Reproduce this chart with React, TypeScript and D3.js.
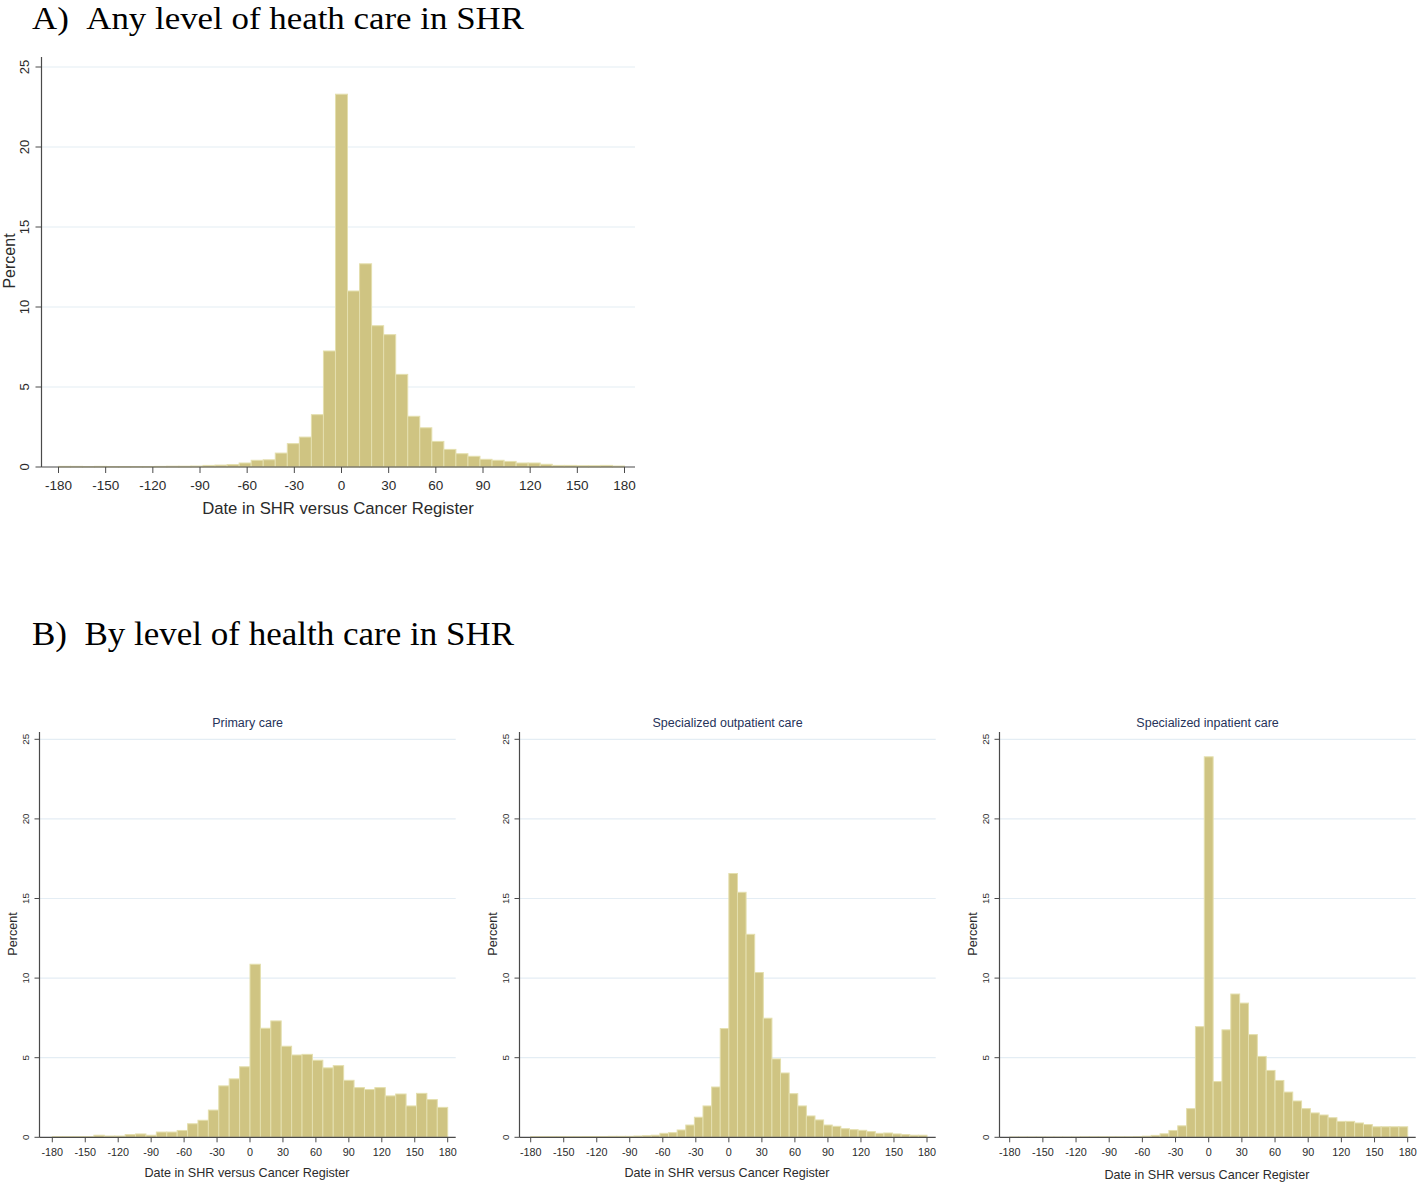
import React from "react";
import * as d3 from "d3";

// ---------- DATA (percent per bin, bins span -180..180 days) ----------
const anyLevel = [
  0.04, 0.04, 0.03, 0.04, 0.03, 0.03, 0.03, 0.03, 0.04, 0.05, 0.05, 0.06,
  0.1, 0.12, 0.15, 0.25, 0.42, 0.45, 0.87, 1.46, 1.87, 3.27, 7.25, 23.3,
  11.0, 12.7, 8.83, 8.27, 5.79, 3.17, 2.45, 1.6, 1.1, 0.83, 0.67, 0.48,
  0.42, 0.35, 0.25, 0.25, 0.17, 0.1, 0.1, 0.08, 0.08, 0.1, 0.06,
];
const primaryCare = [
  0.04, 0.04, 0.04, 0.04, 0.13, 0.08, 0.08, 0.17, 0.21, 0.13, 0.33, 0.33,
  0.43, 0.85, 1.07, 1.71, 3.23, 3.67, 4.43, 10.87, 6.85, 7.31, 5.72, 5.17,
  5.21, 4.84, 4.36, 4.5, 3.58, 3.12, 3.0, 3.12, 2.6, 2.72, 1.97, 2.76, 2.37,
  1.88,
];
const outpatientCare = [
  0.04, 0.04, 0.04, 0.04, 0.04, 0.04, 0.05, 0.05, 0.05, 0.06, 0.06, 0.06,
  0.08, 0.1, 0.13, 0.25, 0.29, 0.46, 0.77, 1.26, 1.97, 3.16, 6.83, 16.57,
  15.39, 12.75, 10.35, 7.48, 4.92, 4.04, 2.74, 1.97, 1.34, 1.09, 0.77, 0.69,
  0.54, 0.48, 0.44, 0.36, 0.25, 0.27, 0.21, 0.17, 0.13, 0.13,
];
const inpatientCare = [
  0.02, 0.02, 0.02, 0.02, 0.02, 0.02, 0.02, 0.02, 0.03, 0.03, 0.03, 0.03,
  0.03, 0.03, 0.04, 0.07, 0.12, 0.22, 0.43, 0.72, 1.8, 6.95, 23.9, 3.5, 6.75,
  9.0, 8.43, 6.45, 5.08, 4.2, 3.57, 2.84, 2.28, 1.8, 1.53, 1.4, 1.23, 1.0,
  1.0, 0.9, 0.8, 0.66, 0.66, 0.66, 0.66,
];
const xTicks = [-180, -150, -120, -90, -60, -30, 0, 30, 60, 90, 120, 150, 180];
const yTicks = [0, 5, 10, 15, 20, 25];
const xDomain = [-180, 180];
const yDomain = [0, 25];

const panelTitleA = "A)\u00a0\u00a0Any level of heath care in SHR";
const panelTitleB = "B)\u00a0\u00a0By level of health care in SHR";
const subTitles = ["Primary care", "Specialized outpatient care", "Specialized inpatient care"];
const xTitle = "Date in SHR versus Cancer Register";
const yTitle = "Percent";

const BAR_FILL = "#cfc482";
const BAR_EDGE = "#e4dfae";
const GRID = "#e4edf4";
const AXIS = "#4a4a4a";
const TEXT = "#2b2b2b";
const SUB = "#26335a";
const SANS = "'Liberation Sans', Arial, sans-serif";
const SERIF = "'Liberation Serif', 'Times New Roman', serif";

type Layout = {
  axisX: number;
  x0: number;
  x1: number;
  gridEnd: number;
  yBase: number;
  yTop: number;
  axisTop: number;
  tickFont: number;
  yTickFont: number;
  tickLabelY: number;
  yLabelX: number;
  titleX: number;
  titleY: number;
  titleFont: number;
  percentX: number;
  percentY: number;
  percentFont: number;
  tickLen: number;
  subtitle?: string;
  subtitleY?: number;
  subtitleFont?: number;
};

function Hist({ values, L }: { values: number[]; L: Layout }) {
  const x = d3.scaleLinear().domain(xDomain).range([L.x0, L.x1]);
  const y = d3.scaleLinear().domain(yDomain).range([L.yBase, L.yTop]);
  const n = values.length;
  const w = (xDomain[1] - xDomain[0]) / n;
  const bins = values.map((v, i) => ({ a: xDomain[0] + i * w, b: xDomain[0] + (i + 1) * w, v }));
  const cx = (L.axisX + L.gridEnd) / 2;
  return (
    <g>
      {yTicks.filter((t) => t > 0).map((t) => (
        <line key={"g" + t} x1={L.axisX} x2={L.gridEnd} y1={y(t)} y2={y(t)} stroke={GRID} strokeWidth={1.2} />
      ))}
      {bins.map((d, i) => (
        <rect
          key={i}
          x={x(d.a)}
          y={y(d.v)}
          width={x(d.b) - x(d.a)}
          height={L.yBase - y(d.v)}
          fill={BAR_FILL}
          stroke={BAR_EDGE}
          strokeWidth={1}
        />
      ))}
      <line x1={L.axisX} x2={L.axisX} y1={L.axisTop} y2={L.yBase} stroke={AXIS} strokeWidth={1.2} />
      <line x1={L.axisX} x2={L.gridEnd} y1={L.yBase} y2={L.yBase} stroke={AXIS} strokeWidth={1.2} />
      {yTicks.map((t) => (
        <g key={"y" + t}>
          <line x1={L.axisX - L.tickLen} x2={L.axisX} y1={y(t)} y2={y(t)} stroke={AXIS} strokeWidth={1} />
          <text
            transform={`translate(${L.yLabelX},${y(t)}) rotate(-90)`}
            textAnchor="middle"
            fontFamily={SANS}
            fontSize={L.yTickFont}
            fill={TEXT}
          >
            {t}
          </text>
        </g>
      ))}
      {xTicks.map((t) => (
        <g key={"x" + t}>
          <line x1={x(t)} x2={x(t)} y1={L.yBase} y2={L.yBase + L.tickLen} stroke={AXIS} strokeWidth={1} />
          <text x={x(t)} y={L.tickLabelY} textAnchor="middle" fontFamily={SANS} fontSize={L.tickFont} fill={TEXT}>
            {t}
          </text>
        </g>
      ))}
      <text x={L.titleX ?? cx} y={L.titleY} textAnchor="middle" fontFamily={SANS} fontSize={L.titleFont} fill={TEXT}>
        {xTitle}
      </text>
      <text
        transform={`translate(${L.percentX},${L.percentY}) rotate(-90)`}
        textAnchor="middle"
        fontFamily={SANS}
        fontSize={L.percentFont}
        fill={TEXT}
      >
        {yTitle}
      </text>
      {L.subtitle && (
        <text x={cx} y={L.subtitleY} textAnchor="middle" fontFamily={SANS} fontSize={L.subtitleFont} fill={SUB}>
          {L.subtitle}
        </text>
      )}
    </g>
  );
}

const layoutA: Layout = {
  axisX: 41.5,
  x0: 58.5,
  x1: 624.5,
  gridEnd: 635,
  yBase: 467,
  yTop: 67,
  axisTop: 57,
  tickFont: 13.5,
  yTickFont: 13,
  tickLabelY: 490,
  yLabelX: 29,
  titleX: 338,
  titleY: 514,
  titleFont: 16.7,
  percentX: 15,
  percentY: 261,
  percentFont: 16,
  tickLen: 6,
};

function layoutB(off: number, x0: number, x1: number, sub: string, titleY: number): Layout {
  return {
    axisX: off + 39.5,
    x0: off + x0,
    x1: off + x1,
    gridEnd: off + 455.7,
    yBase: 1137.3,
    yTop: 739.3,
    axisTop: 732,
    tickFont: 10.8,
    yTickFont: 9.8,
    tickLabelY: 1155.8,
    yLabelX: off + 28.5,
    titleX: off + 247,
    titleY,
    titleFont: 12.6,
    percentX: off + 17,
    percentY: 934,
    percentFont: 12.6,
    tickLen: 5,
    subtitle: sub,
    subtitleY: 726.5,
    subtitleFont: 12.5,
  };
}

export default function App() {
  const Ls = [
    layoutB(0, 52.3, 447.7, subTitles[0], 1177),
    layoutB(480, 50.7, 447, subTitles[1], 1176.5),
    layoutB(960, 49.7, 447.7, subTitles[2], 1179),
  ];
  const series = [primaryCare, outpatientCare, inpatientCare];
  return (
    <svg
      width={1418}
      height={1183}
      style={{ position: "absolute", left: 0, top: 0, background: "#fff" }}
    >
      <rect width={1418} height={1183} fill="#fff" />
      <text
        x={32}
        y={28.5}
        fontFamily={SERIF}
        fontSize={31}
        fill="#000"
        textLength={492}
        lengthAdjust="spacingAndGlyphs"
      >
        {panelTitleA}
      </text>
      <Hist values={anyLevel} L={layoutA} />
      <text
        x={32}
        y={645}
        fontFamily={SERIF}
        fontSize={33}
        fill="#000"
        textLength={482}
        lengthAdjust="spacingAndGlyphs"
      >
        {panelTitleB}
      </text>
      {series.map((s, i) => (
        <Hist key={i} values={s} L={Ls[i]} />
      ))}
    </svg>
  );
}
